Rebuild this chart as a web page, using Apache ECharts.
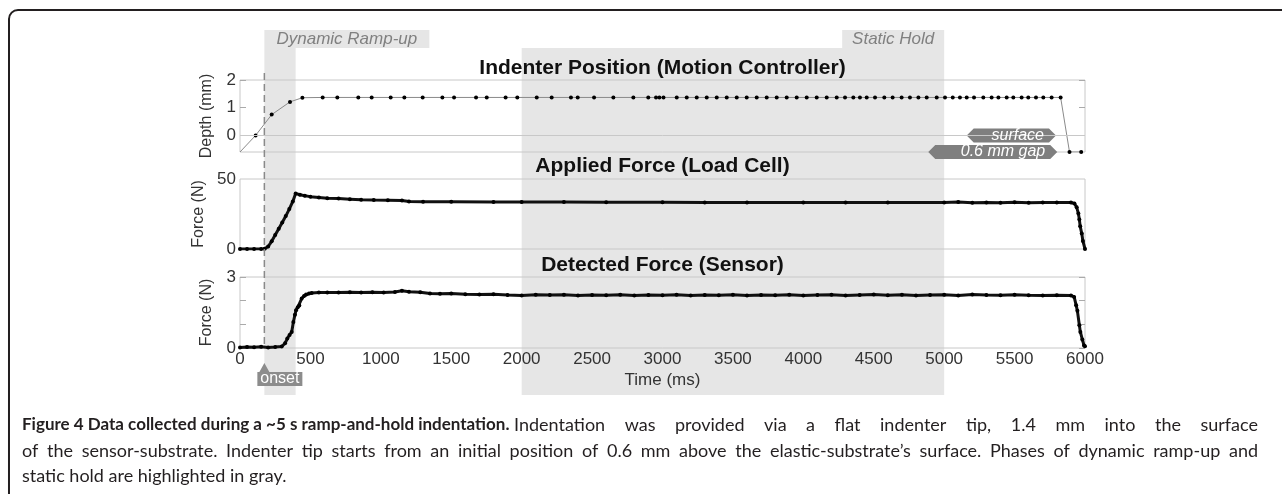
<!DOCTYPE html>
<html>
<head>
<meta charset="utf-8">
<script src="https://cdn.jsdelivr.net/npm/echarts@6/dist/echarts.min.js"></script>
<style>
  html, body { margin: 0; padding: 0; background: #fff; }
  #chart { width: 1282px; height: 494px; }
</style>
</head>
<body>
<div id="chart"></div>
<script>
// indenter position (motion controller), ms / mm
const depthTimes = [0, 111, 225, 355, 443, 587, 691, 840, 935, 1070, 1167, 1297, 1437, 1520, 1676, 1752, 1886, 1969,
  2107, 2213, 2350, 2398, 2514, 2651, 2793, 2899, 2954, 2978, 3007, 3101, 3172, 3243, 3314, 3385, 3456, 3527,
  3598, 3669, 3740, 3811, 3882, 3953, 4024, 4095, 4166, 4237, 4296, 4355, 4402, 4450, 4509, 4575, 4634, 4698,
  4757, 4817, 4876, 4947, 5006, 5061, 5112, 5160, 5212, 5278, 5337, 5385, 5444, 5491, 5550, 5597, 5652, 5704,
  5763, 5827, 5890, 5973];
const depthValues = [-0.6, 0, 0.75, 1.21, 1.36,
  1.37, 1.37, 1.37, 1.37, 1.37, 1.37, 1.37, 1.37, 1.37, 1.37,
  1.37, 1.37, 1.37, 1.37, 1.37, 1.37, 1.37, 1.37, 1.37, 1.37,
  1.37, 1.37, 1.37, 1.37, 1.37, 1.37, 1.37, 1.37, 1.37, 1.37,
  1.37, 1.37, 1.37, 1.37, 1.37, 1.37, 1.37, 1.37, 1.37, 1.37,
  1.37, 1.37, 1.37, 1.37, 1.37, 1.37, 1.37, 1.37, 1.37, 1.37,
  1.37, 1.37, 1.37, 1.37, 1.37, 1.37, 1.37, 1.37, 1.37, 1.37,
  1.37, 1.37, 1.37, 1.37, 1.37, 1.37, 1.37, 1.37, 1.37,
  -0.6, -0.6];

// applied force (load cell), ms / N
const loadTimes = [0, 50, 100, 150, 175, 200, 225, 250, 275, 300, 325, 350, 375, 395, 425, 460, 500, 560, 620, 700,
  780, 860, 950, 1050, 1150, 1200, 1300, 1500, 1800, 2000, 2300, 2600, 3000, 3300, 3600, 4000, 4300, 4600, 5000,
  5100, 5200, 5300, 5400, 5500, 5600, 5700, 5800, 5900, 5925, 5941, 5953, 5960, 5966, 5977, 5985, 6000];
const loadValues = [0, 0, 0, 0, 0.2, 1.8, 5.5, 10, 14.5, 19, 23.5, 28.5, 34, 39.6, 38.8, 38, 37.4, 36.8, 36.2, 36,
  35.6, 35.2, 35, 34.9, 34.6, 33.9, 33.8, 33.7, 33.6, 33.5, 33.5, 33.4, 33.4, 33.3, 33.3, 33.3, 33.2, 33.2, 33.2,
  33.5, 33.0, 33.3, 33.1, 33.4, 33.0, 33.3, 33.2, 33.2, 32.5, 29.8, 25.4, 21, 16.2, 11, 5.8, 0];

// detected force (sensor), ms / N
const sensorTimes = [0, 50, 100, 150, 200, 250, 296, 320, 336, 352, 367, 379, 390, 398, 410, 421, 438, 455, 469, 490,
  509, 560, 620, 700, 780, 860, 940, 1020, 1100, 1150, 1200, 1280, 1349, 1420, 1500,
  1600, 1700, 1800, 1900, 2000, 2100, 2200, 2300, 2400, 2500, 2600, 2700, 2800, 2900, 3000, 3100, 3200, 3300,
  3400, 3500, 3600, 3700, 3800, 3900, 4000, 4100, 4200, 4300, 4400, 4500, 4600, 4700, 4800, 4900, 5000, 5100,
  5200, 5300, 5400, 5500, 5600, 5700, 5800, 5900, 5923, 5937, 5946, 5960, 5967, 5981, 5993, 6000];
const sensorValues = [0.02, 0.04, 0.03, 0.05, 0.02, 0.04, 0.06, 0.2, 0.4, 0.55, 0.68, 1.1, 1.4, 1.6, 1.72, 1.8, 2.09,
  2.2, 2.26, 2.3, 2.32, 2.34, 2.35, 2.34, 2.36, 2.35, 2.36, 2.35, 2.37, 2.42, 2.38, 2.36, 2.3, 2.29, 2.3,
  2.27, 2.26, 2.27, 2.24, 2.22, 2.25, 2.24, 2.25, 2.22, 2.24,
  2.23, 2.25, 2.22, 2.24, 2.23, 2.25, 2.22, 2.24, 2.23, 2.25,
  2.22, 2.24, 2.23, 2.25, 2.22, 2.24, 2.25, 2.22, 2.24, 2.26,
  2.23, 2.25, 2.22, 2.24, 2.25, 2.22, 2.26, 2.24, 2.23, 2.25,
  2.23, 2.22, 2.23, 2.22,
  2.16, 1.81, 1.57, 0.96, 0.68, 0.36, 0.11, 0.07];

const panelTitles = ['Indenter Position (Motion Controller)', 'Applied Force (Load Cell)', 'Detected Force (Sensor)'];
const yNames = ['Depth (mm)', 'Force (N)', 'Force (N)'];
const phases = [
  { name: 'Dynamic Ramp-up', from: 173, to: 395 },
  { name: 'Static Hold', from: 2000, to: 5000 }
];
const onsetTime = 173;
const depthTags = [
  { text: 'surface', value: 0, left: 5160, right: 5794 },
  { text: '0.6 mm gap', value: -0.6, left: 4887, right: 5803 }
];
const captionBold = 'Figure 4 Data collected during a ~5 s ramp-and-hold indentation.';
const captionLines = [
  'Indentation was provided via a flat indenter tip, 1.4 mm into the surface',
  'of the sensor-substrate. Indenter tip starts from an initial position of 0.6 mm above the elastic-substrate\u2019s surface. Phases of dynamic ramp-up and',
  'static hold are highlighted in gray.'
];

const zip = (xs, ys) => xs.map((x, i) => [x, ys[i]]);
const FONT = '"Liberation Sans", Arial, sans-serif';
const grids = [
  { left: 240, right: 197, top: 80, height: 72 },
  { left: 240, right: 197, top: 179, height: 70 },
  { left: 240, right: 197, top: 277, height: 71 }
];

const chart = echarts.init(document.getElementById('chart'));

const yBase = {
  axisLine: { show: false },
  splitLine: { show: false },
  axisLabel: { fontSize: 17, color: '#333', fontFamily: FONT, margin: 4 },
  nameLocation: 'middle',
  nameGap: 25,
  nameTextStyle: { fontSize: 16, color: '#333', fontFamily: FONT }
};
const tickStyle = { show: true, inside: true, length: 6, lineStyle: { color: '#aaa' } };

const option = {
  animation: false,
  grid: grids.map(g => ({ ...g, show: true, borderColor: '#c8c8c8', borderWidth: 1, backgroundColor: 'transparent' })),
  xAxis: grids.map((g, i) => ({
    type: 'value', gridIndex: i, min: 0, max: 6000, interval: 500,
    axisLine: { show: false }, axisTick: { show: false }, splitLine: { show: false },
    axisLabel: { show: i === 2, fontSize: 17, color: '#333', fontFamily: FONT, margin: 3, formatter: v => String(v) },
    name: i === 2 ? 'Time (ms)' : '',
    nameLocation: 'middle', nameGap: 24,
    nameTextStyle: { fontSize: 17, color: '#333', fontFamily: FONT }
  })),
  yAxis: [
    { ...yBase, gridIndex: 0, min: -0.6, max: 2, name: yNames[0],
      axisLabel: { ...yBase.axisLabel, customValues: [0, 1, 2] },
      axisTick: { ...tickStyle, customValues: [1, 2] } },
    { ...yBase, gridIndex: 1, min: 0, max: 50, interval: 50, name: yNames[1], axisTick: { show: false } },
    { ...yBase, gridIndex: 2, min: 0, max: 3, interval: 1, name: yNames[2],
      axisLabel: { ...yBase.axisLabel, formatter: v => (v === 0 || v === 3) ? String(v) : '' },
      axisTick: tickStyle },
    { type: 'value', gridIndex: 0, position: 'right', min: -0.6, max: 2,
      axisLine: { show: false }, splitLine: { show: false }, axisLabel: { show: false },
      axisTick: { ...tickStyle, customValues: [1, 2] } },
    { type: 'value', gridIndex: 2, position: 'right', min: 0, max: 3, interval: 1,
      axisLine: { show: false }, splitLine: { show: false }, axisLabel: { show: false },
      axisTick: tickStyle }
  ],
  series: [
    {
      type: 'line', xAxisIndex: 0, yAxisIndex: 0,
      data: zip(depthTimes, depthValues).map((p, i) => i === 0 ? { value: p, symbol: 'none' } : p),
      symbol: 'circle', symbolSize: 4,
      itemStyle: { color: '#000' },
      lineStyle: { color: '#8a8a8a', width: 1 },
      markLine: {
        silent: true, symbol: 'none', label: { show: false },
        lineStyle: { color: '#c8c8c8', type: 'solid', width: 1 },
        data: [{ yAxis: 0 }]
      },
      z: 3
    },
    {
      type: 'line', xAxisIndex: 1, yAxisIndex: 1,
      data: zip(loadTimes, loadValues),
      symbol: 'circle', symbolSize: 4,
      itemStyle: { color: '#000' },
      lineStyle: { color: '#111', width: 3 },
      z: 3
    },
    {
      type: 'line', xAxisIndex: 2, yAxisIndex: 2,
      data: zip(sensorTimes, sensorValues),
      symbol: 'circle', symbolSize: 4,
      itemStyle: { color: '#000' },
      lineStyle: { color: '#111', width: 3 },
      z: 3
    }
  ]
};
chart.setOption(option);

// annotations placed through the axes
const px = (t, g) => chart.convertToPixel({ xAxisIndex: g || 0 }, t);
const py = (v, a) => chart.convertToPixel({ yAxisIndex: a }, v);
const BAND = '#e6e6e6', TAG = '#7f7f7f';
const bandTop = 48, tabTop = 30, bandBottom = 395;
const graphic = [];

graphic.push({ type: 'rect', z: 50, shape: { x: 9, y: 10, width: 1400, height: 700, r: 9 },
  style: { fill: 'none', stroke: '#231f20', lineWidth: 2 } });

phases.forEach((ph, i) => {
  const x1 = px(ph.from), x2 = px(ph.to);
  graphic.push({ type: 'rect', z: -10, shape: { x: x1, y: bandTop, width: x2 - x1, height: bandBottom - bandTop },
    style: { fill: BAND } });
  const tw = i === 0 ? 165 : 102;
  const tx = i === 0 ? x1 : x2 - tw;
  graphic.push({ type: 'rect', z: -10, shape: { x: tx, y: tabTop, width: tw, height: bandTop - tabTop },
    style: { fill: BAND } });
  graphic.push({ type: 'text', z: -9, x: tx + tw / 2, y: (tabTop + bandTop) / 2,
    style: { text: ph.name, fill: '#808080', fontSize: 17, fontStyle: 'italic', fontFamily: FONT,
      textAlign: 'center', textVerticalAlign: 'middle' } });
});

// panel titles
const cx = (px(0) + px(6000)) / 2;
[68, 166, 265].forEach((y, i) => {
  graphic.push({ type: 'text', z: 5, x: cx, y: y,
    style: { text: panelTitles[i], fill: '#111', fontSize: 21, fontWeight: 'bold', fontFamily: FONT,
      textAlign: 'center', textVerticalAlign: 'middle' } });
});

// onset marker
const ox = px(onsetTime);
graphic.push({ type: 'line', z: 4, shape: { x1: ox, y1: 73, x2: ox, y2: py(0, 2) },
  style: { stroke: '#8a8a8a', lineWidth: 1.5, lineDash: [7, 4] } });
graphic.push({ type: 'polygon', z: 4,
  shape: { points: [[ox - 7, 372], [ox - 5, 372], [ox, 363], [ox + 5, 372], [ox + 38, 372], [ox + 38, 386], [ox - 7, 386]] },
  style: { fill: '#8c8c8c' } });
graphic.push({ type: 'text', z: 5, x: ox + 15.5, y: 379,
  style: { text: 'onset', fill: '#fff', fontSize: 16, fontFamily: FONT, textAlign: 'center', textVerticalAlign: 'middle' } });

// surface / gap tags in the depth panel
depthTags.forEach(tag => {
  const l = px(tag.left), r = px(tag.right), y = py(tag.value, 0), h = 7;
  graphic.push({ type: 'polygon', z: 4,
    shape: { points: [[l, y], [l + h, y - h], [r - h, y - h], [r, y], [r - h, y + h], [l + h, y + h]] },
    style: { fill: TAG } });
  graphic.push({ type: 'text', z: 5, x: r - 12, y: y,
    style: { text: tag.text, fill: '#fff', fontSize: 16, fontStyle: 'italic', fontFamily: FONT,
      textAlign: 'right', textVerticalAlign: 'middle' } });
});

// caption, justified like the journal layout
const CAP = 'Lato, "Open Sans", sans-serif';
const ctx = document.createElement('canvas').getContext('2d');
const capFont = bold => (bold ? 'bold 17px ' : 'normal 18px ') + CAP;
const textW = (t, bold) => { ctx.font = capFont(bold); return ctx.measureText(t).width; };
const capText = (t, x, y, bold) => graphic.push({ type: 'text', z: 5, x: x, y: y,
  style: { text: t, fill: '#231f20', fontFamily: CAP, fontSize: bold ? 17 : 18,
    fontWeight: bold ? 'bold' : 'normal', textVerticalAlign: 'middle' } });
function justify(words, y, x0, x1) {
  const widths = words.map(w => textW(w, false));
  const total = widths.reduce((a, b) => a + b, 0);
  const gap = (x1 - x0 - total) / (words.length - 1);
  let x = x0;
  words.forEach((w, i) => { capText(w, x, y, false); x += widths[i] + gap; });
}
capText(captionBold, 22, 425, true);
justify(captionLines[0].split(' '), 425, 22 + textW(captionBold, true) + textW(' ', false), 1258);
justify(captionLines[1].split(' '), 451, 22, 1258);
capText(captionLines[2], 22, 476, false);

chart.setOption({ graphic: graphic });
</script>
</body>
</html>
